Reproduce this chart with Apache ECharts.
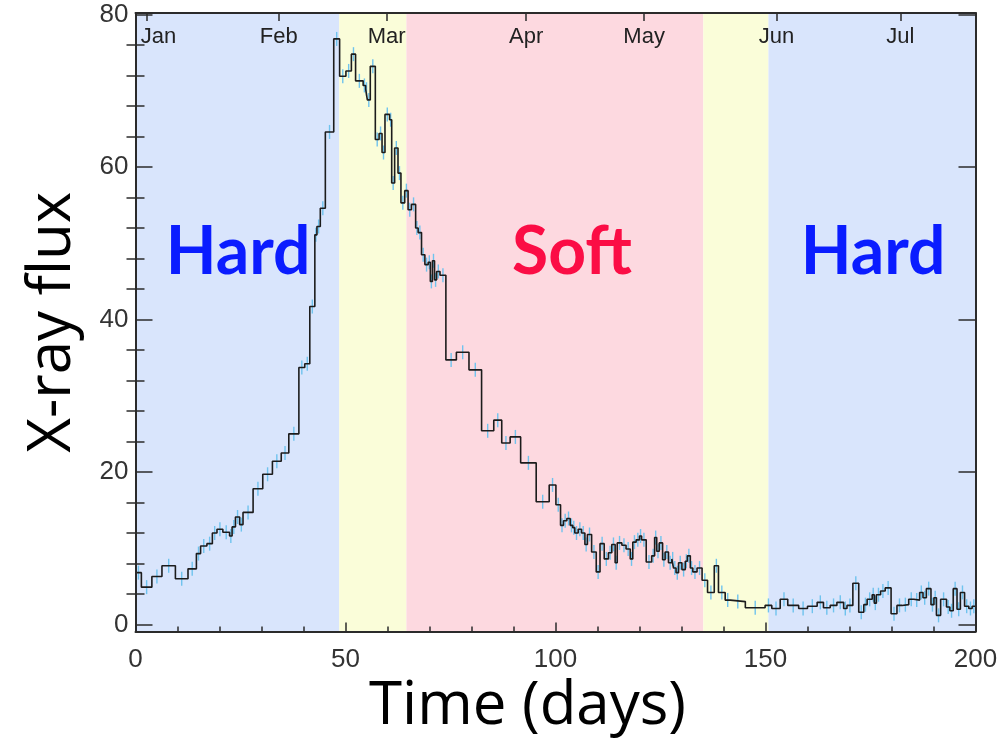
<!DOCTYPE html>
<html>
<head>
<meta charset="utf-8">
<script src="https://cdn.jsdelivr.net/npm/echarts@6/dist/echarts.min.js"></script>
<style>
html,body{margin:0;padding:0;background:#fff;}
#chart{width:1003px;height:755px;}
</style>
</head>
<body>
<div id="chart"></div>
<script>
// ---- data ----
const BIN_START = [
  0, 1.4, 3.9, 6.3, 9.5, 12.5, 14.5, 15.5, 17.0, 18.3,
  19.4, 20.8, 22.4, 23.0, 23.8, 24.8, 25.6, 28.0, 30.3, 32.6,
  34.7, 36.5, 38.9, 40.3, 41.5, 42.7, 43.2, 44.0, 45.2, 47.2,
  48.6, 50.1, 51.4, 52.4, 54.2, 54.8, 55.2, 55.9, 57.1, 58.0,
  58.7, 59.4, 60.5, 61.0, 61.7, 62.5, 63.2, 64.1, 64.9, 65.7,
  66.7, 67.3, 68.1, 68.9, 69.7, 70.2, 70.7, 71.2, 71.7, 72.5,
  73.9, 76.4, 79.4, 82.4, 85.3, 87.2, 89.2, 91.7, 95.4, 98.5,
  100.1, 101.2, 101.9, 102.7, 103.5, 104.1, 104.6, 105.4, 106.2, 107.0,
  107.6, 108.6, 109.7, 110.6, 111.6, 112.6, 113.4, 114.2, 114.7, 115.8,
  116.8, 117.8, 118.4, 119.2, 120.0, 120.5, 121.6, 122.9, 123.6, 124.1,
  124.7, 125.5, 126.1, 126.9, 127.7, 128.1, 128.7, 129.3, 130.1, 130.9,
  131.4, 132.1, 132.7, 133.7, 134.9, 136.2, 137.8, 138.8, 140.4, 141.6,
  145.2, 149.9, 151.5, 153.5, 155.3, 157.9, 160.0, 162.3, 163.8, 165.4,
  167.0, 168.6, 169.4, 170.8, 172.2, 173.4, 174.2, 175.4, 175.9, 176.4,
  177.4, 178.5, 179.9, 181.3, 182.5, 184.1, 185.3, 186.7, 187.5, 188.3,
  189.4, 190.1, 190.7, 191.7, 193.1, 193.9, 194.7, 195.6, 196.4, 197.4,
  198.4, 199.2
];
const BIN_END = 200;
const FLUX = [
  6.8, 4.9, 6.3, 7.7, 6.0, 7.3, 9.3, 10.3, 10.6, 12.0,
  12.5, 12.1, 11.6, 12.8, 14.1, 13.1, 14.7, 17.8, 19.7, 21.4,
  22.5, 25.0, 33.7, 34.2, 41.7, 51.1, 52.2, 54.6, 64.6, 76.8,
  71.9, 72.6, 74.8, 71.3, 70.7, 70.2, 68.8, 73.2, 63.6, 64.4,
  61.9, 66.9, 66.2, 57.9, 62.5, 59.2, 55.3, 56.9, 54.4, 55.1,
  52.0, 51.4, 48.5, 47.2, 47.5, 45.0, 47.7, 45.2, 46.3, 45.8,
  34.7, 35.7, 33.4, 25.4, 26.8, 23.8, 24.6, 21.2, 16.1, 18.3,
  15.7, 13.0, 13.6, 13.9, 13.0, 12.7, 12.0, 12.5, 12.0, 10.5,
  11.8, 9.5, 6.9, 10.6, 8.6, 9.4, 10.5, 8.1, 10.7, 10.4,
  9.9, 8.6, 10.8, 11.1, 11.6, 11.1, 8.2, 9.0, 11.4, 9.6,
  10.7, 8.5, 9.5, 8.1, 8.6, 7.4, 6.8, 8.1, 7.2, 8.3,
  9.0, 7.4, 6.9, 7.4, 5.8, 4.2, 7.7, 4.2, 3.2, 3.0,
  2.2, 2.5, 2.1, 3.3, 2.5, 2.1, 2.4, 2.9, 2.2, 2.5,
  2.9, 2.1, 2.5, 5.4, 1.6, 2.6, 3.3, 3.9, 2.8, 3.9,
  4.4, 4.8, 1.4, 2.5, 2.6, 3.3, 3.2, 4.2, 3.5, 4.7,
  2.6, 3.5, 1.2, 3.3, 2.3, 1.8, 4.7, 2.0, 4.2, 2.4,
  2.1, 2.4
];
// state intervals (days)
const STATE_NAMES = ['Hard', 'Intermediate', 'Soft', 'Intermediate', 'Hard'];
const STATE_FROM  = [0, 48.5, 64.5, 135.2, 150.7];
const STATE_TO    = [48.5, 64.5, 135.2, 150.7, 200];
const STATE_COLORS = ['#d9e5fc', '#fafdd9', '#fdd9e0', '#fafdd9', '#d9e5fc'];
// month ticks on the top axis (days)
const MONTH_NAMES = ['Jan', 'Feb', 'Mar', 'Apr', 'May', 'Jun', 'Jul'];
const MONTH_DAYS  = [2.6, 34.1, 59.8, 93.0, 121.1, 152.6, 182.1];
const Y_MAJOR = [0, 20, 40, 60, 80];
const Y_MINOR = [4, 8, 12, 16, 24, 28, 32, 36, 44, 48, 52, 56, 64, 68, 72, 76];

// ---- build ----
const stepData = BIN_START.map((t, i) => [t, FLUX[i]]);
stepData.push([BIN_END, FLUX[FLUX.length - 1]]);
const errData = BIN_START.map((t, i) => {
  const end = i + 1 < BIN_START.length ? BIN_START[i + 1] : BIN_END;
  return [(t + end) / 2, FLUX[i]];
});

const AX = '#2b2b2b';
const TICK_FONT = 'Liberation Sans';
const chart = echarts.init(document.getElementById('chart'));
const yBase = {
  type: 'value', min: -0.92, max: 80.2, z: 10,
  splitLine: { show: false }
};
chart.setOption({
  animation: false,
  backgroundColor: '#fff',
  grid: { left: 135.5, right: 27.5, top: 13, bottom: 123.5 },
  xAxis: [
    {
      type: 'value', position: 'bottom', min: 0, max: 200, interval: 50, z: 10,
      axisLine: { onZero: false, lineStyle: { color: AX, width: 2 } },
      axisTick: { inside: true, length: 9, lineStyle: { color: AX, width: 1.5 } },
      minorTick: { show: true, splitNumber: 5, length: 5, lineStyle: { color: AX, width: 1.5 } },
      splitLine: { show: false },
      axisLabel: { fontFamily: TICK_FONT, fontSize: 26, color: '#333', margin: 15 },
      name: 'Time (days)', nameLocation: 'middle', nameGap: 45,
      nameTextStyle: { fontFamily: 'Open Sans', fontSize: 60, color: '#000', padding: [0, 56, 0, 0] }
    },
    {
      type: 'value', position: 'top', min: 0, max: 200, z: 10,
      axisLine: { onZero: false, lineStyle: { color: AX, width: 2 } },
      axisTick: { inside: true, length: 8, customValues: MONTH_DAYS, lineStyle: { color: AX, width: 1.5 } },
      axisLabel: {
        inside: true, customValues: MONTH_DAYS, margin: 13,
        formatter: v => {
          const name = MONTH_NAMES[MONTH_DAYS.indexOf(v)];
          return v === MONTH_DAYS[0] ? '{first|' + name + '}' : name;
        },
        rich: { first: { padding: [0, 0, 0, 24], fontFamily: TICK_FONT, fontSize: 22, color: '#222' } },
        fontFamily: TICK_FONT, fontSize: 22, color: '#222'
      },
      splitLine: { show: false }
    }
  ],
  yAxis: [
    Object.assign({}, yBase, {
      position: 'left',
      axisLine: { show: true, onZero: false, lineStyle: { color: AX, width: 2 } },
      axisTick: { show: true, inside: true, length: 17, customValues: Y_MAJOR, lineStyle: { color: AX, width: 1.5 } },
      axisLabel: { customValues: Y_MAJOR, fontFamily: TICK_FONT, fontSize: 26, color: '#333', margin: 7 },
      name: 'X-ray flux', nameLocation: 'middle', nameRotate: 90, nameGap: 53,
      nameTextStyle: { fontFamily: 'Open Sans', fontSize: 60, color: '#000' }
    }),
    Object.assign({}, yBase, {
      position: 'right',
      axisLine: { show: true, onZero: false, lineStyle: { color: AX, width: 2 } },
      axisTick: { show: true, inside: true, length: 17, customValues: Y_MAJOR, lineStyle: { color: AX, width: 1.5 } },
      axisLabel: { show: false }
    }),
    Object.assign({}, yBase, {
      position: 'left',
      axisLine: { show: false },
      axisTick: { show: true, inside: true, length: 9, customValues: Y_MINOR, lineStyle: { color: AX, width: 1.5 } },
      axisLabel: { show: false }
    }),
    Object.assign({}, yBase, {
      position: 'right',
      axisLine: { show: false },
      axisTick: { show: true, inside: true, length: 9, customValues: Y_MINOR, lineStyle: { color: AX, width: 1.5 } },
      axisLabel: { show: false }
    })
  ],
  series: [
    {
      type: 'custom', name: 'errors', xAxisIndex: 0, yAxisIndex: 0, z: 2,
      data: errData, silent: true,
      renderItem: (params, api) => {
        const p = api.coord([api.value(0), api.value(1)]);
        return {
          type: 'line',
          shape: { x1: p[0], y1: p[1] - 7, x2: p[0], y2: p[1] + 7 },
          style: { stroke: '#6fc3ee', lineWidth: 1.4 }
        };
      }
    },
    {
      type: 'line', name: 'X-ray flux', xAxisIndex: 0, yAxisIndex: 0, z: 3,
      step: 'end', data: stepData, showSymbol: false, symbol: 'none',
      lineStyle: { color: '#1c1c1c', width: 1.6 },
      silent: true,
      markArea: {
        silent: true,
        data: STATE_FROM.map((f, i) => [
          { xAxis: f, itemStyle: { color: STATE_COLORS[i] } },
          { xAxis: STATE_TO[i] }
        ])
      }
    }
  ],
  graphic: [
    { type: 'text', z: 20, style: { text: 'Hard', x: 238, y: 253, align: 'center', verticalAlign: 'middle', font: 'bold 66px Lato', fill: '#0a1cff' } },
    { type: 'text', z: 20, style: { text: 'Soft', x: 572, y: 253, align: 'center', verticalAlign: 'middle', font: 'bold 66px Lato', fill: '#fb0d45' } },
    { type: 'text', z: 20, style: { text: 'Hard', x: 873, y: 253, align: 'center', verticalAlign: 'middle', font: 'bold 66px Lato', fill: '#0a1cff' } }
  ]
});
</script>
</body>
</html>
